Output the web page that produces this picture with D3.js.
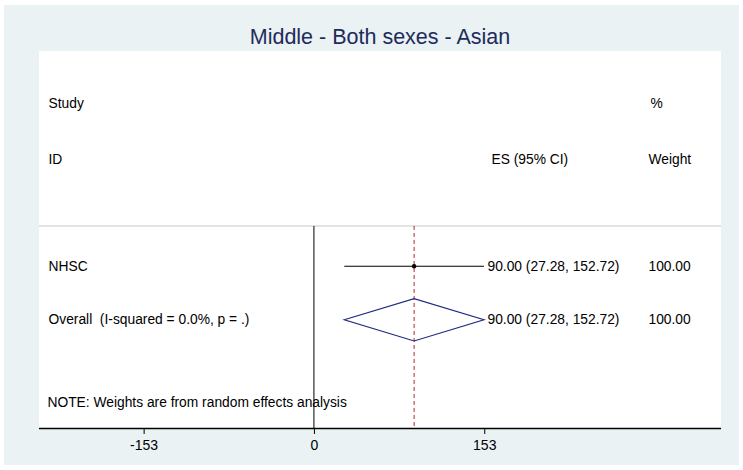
<!DOCTYPE html>
<html>
<head>
<meta charset="utf-8">
<script src="https://cdn.jsdelivr.net/npm/d3@7/dist/d3.min.js"></script>
<style>
  html, body { margin: 0; padding: 0; background: #ffffff; }
  svg { display: block; font-family: "Liberation Sans", Arial, Helvetica, sans-serif; }
  text { white-space: pre; }
</style>
</head>
<body>
<svg id="chart" width="743" height="470"></svg>
<script>
// ---- data ----
const title = "Middle - Both sexes - Asian";
const studies = ["NHSC"];
const studyES = [90.00];
const studyLo = [27.28];
const studyHi = [152.72];
const studyWeight = [100.00];
const overallLabel = "Overall  (I-squared = 0.0%, p = .)";
const overallES = 90.00;
const overallLo = 27.28;
const overallHi = 152.72;
const overallWeight = 100.00;
const tickValues = [-153, 0, 153];
const tickLabels = ["-153", "0", "153"];
const noteText = "NOTE: Weights are from random effects analysis";
const headerStudy = ["Study", "ID"];
const headerES = "ES (95% CI)";
const headerWeight = ["%", "Weight"];

// ---- layout ----
const W = 743, H = 470;
const plot = { left: 39, right: 721, top: 51, bottom: 428 };
const svg = d3.select("#chart");

// outer panel
svg.append("rect").attr("x", 0).attr("y", 0).attr("width", W).attr("height", H).attr("fill", "#ffffff");
svg.append("rect").attr("x", 4).attr("y", 5).attr("width", 735).attr("height", 460).attr("fill", "#eaf2f3");
svg.append("rect").attr("x", plot.left).attr("y", plot.top)
  .attr("width", plot.right - plot.left).attr("height", plot.bottom - plot.top).attr("fill", "#ffffff");

// scales
const x = d3.scaleLinear().domain([-247, 365.7]).range([plot.left, plot.right]);
// row slots -> pixel
const y = d3.scaleLinear().domain([0, 1]).range([103, 156]);
const slot = { study: 0, id: 1.07, sep: 2.32, row0: 3.08, overall: 4.09, note: 5.66 };

const fs = 13.8;
const textColor = "#000000";

// title
svg.append("text").attr("x", (plot.left + plot.right) / 2).attr("y", 37)
  .attr("text-anchor", "middle").attr("dominant-baseline", "central")
  .attr("font-size", 21.5).attr("fill", "#1e2b5c").text(title);

// headers
const colLeft = plot.left + 9.5;
const colES = 491.5;
const colESval = 487.5;
const colW = 648.5;

function txt(xp, yp, s, anchor) {
  return svg.append("text").attr("x", xp).attr("y", yp)
    .attr("text-anchor", anchor || "start").attr("dominant-baseline", "central")
    .attr("font-size", fs).attr("fill", textColor).text(s);
}
txt(colLeft, y(slot.study), headerStudy[0]);
txt(colLeft, y(slot.id), headerStudy[1]);
txt(colES, y(slot.id), headerES);
txt(colW + 2, y(slot.study), headerWeight[0]);
txt(colW, y(slot.id), headerWeight[1]);

// separator line
svg.append("line").attr("x1", plot.left).attr("x2", plot.right)
  .attr("y1", y(slot.sep)).attr("y2", y(slot.sep))
  .attr("stroke", "#c8c8c8").attr("stroke-width", 1);

// zero line
svg.append("line").attr("x1", x(0)).attr("x2", x(0))
  .attr("y1", y(slot.sep)).attr("y2", plot.bottom)
  .attr("stroke", "#000000").attr("stroke-width", 1);

// overall dashed line
svg.append("line").attr("x1", x(overallES)).attr("x2", x(overallES))
  .attr("y1", y(slot.sep)).attr("y2", plot.bottom)
  .attr("stroke", "#b8232f").attr("stroke-width", 1).attr("stroke-dasharray", "4,3");

// fmt
const f2 = d3.format(".2f");

// study rows
studies.forEach((s, i) => {
  const yy = y(slot.row0 + i);
  svg.append("line").attr("x1", x(studyLo[i])).attr("x2", x(studyHi[i]))
    .attr("y1", yy).attr("y2", yy).attr("stroke", "#000000").attr("stroke-width", 1.2);
  svg.append("circle").attr("cx", x(studyES[i])).attr("cy", yy).attr("r", 2.2).attr("fill", "#000000");
  txt(colLeft, yy, s);
  txt(colESval, yy, `${f2(studyES[i])} (${f2(studyLo[i])}, ${f2(studyHi[i])})`);
  txt(colW, yy, f2(studyWeight[i]));
});

// overall diamond
const yo = y(slot.overall);
const dh = y(0.4) - y(0);
const dpath = d3.path();
dpath.moveTo(x(overallLo), yo);
dpath.lineTo(x(overallES), yo - dh);
dpath.lineTo(x(overallHi), yo);
dpath.lineTo(x(overallES), yo + dh);
dpath.closePath();
svg.append("path").attr("d", dpath.toString()).attr("fill", "none")
  .attr("stroke", "#1c2a80").attr("stroke-width", 1.2);
txt(colLeft, yo, overallLabel);
txt(colESval, yo, `${f2(overallES)} (${f2(overallLo)}, ${f2(overallHi)})`);
txt(colW, yo, f2(overallWeight));

// note
txt(colLeft - 1, y(slot.note), noteText);

// axis
const axis = d3.axisBottom(x).tickValues(tickValues)
  .tickFormat((d, i) => tickLabels[i]).tickSize(6).tickSizeOuter(0).tickPadding(6);
const gAxis = svg.append("g").attr("transform", `translate(0,${plot.bottom})`).call(axis);
gAxis.attr("font-size", 14).attr("font-family", "Liberation Sans, Arial, sans-serif");
gAxis.select(".domain").attr("stroke", "#000000").attr("stroke-width", 1.4)
  .attr("d", `M${plot.left},0.5H${plot.right}`);
gAxis.selectAll(".tick line").attr("stroke", "#000000");
gAxis.selectAll(".tick text").attr("font-size", 14).attr("fill", "#000000");
</script>
</body>
</html>
